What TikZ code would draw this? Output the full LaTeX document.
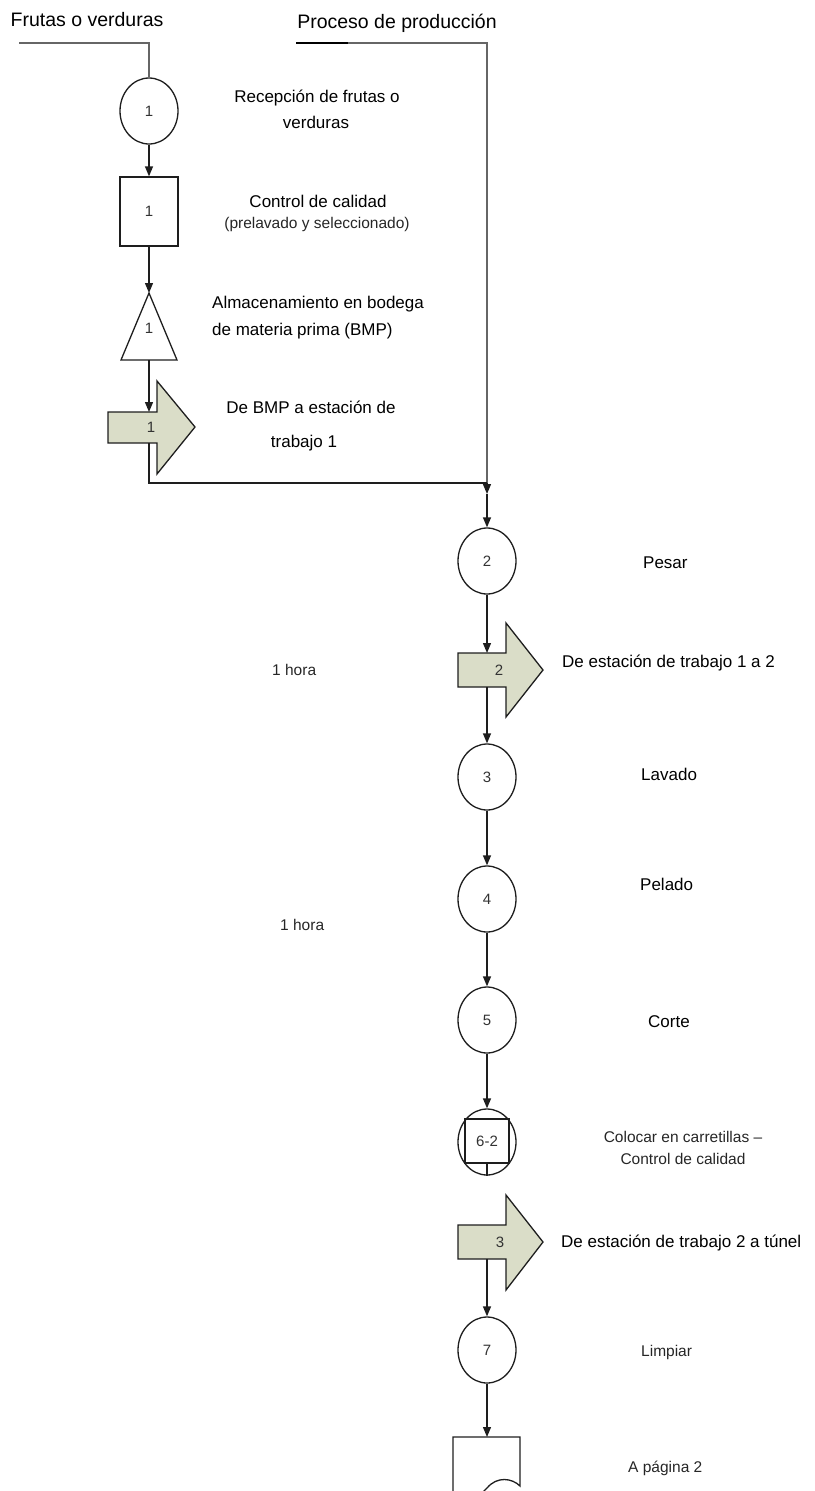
\documentclass[tikz,border=0pt]{standalone}
\usepackage{fontspec}
\setmainfont{Liberation Sans}
\usetikzlibrary{shapes.geometric,arrows.meta}

\definecolor{movefill}{RGB}{218,221,200}
\definecolor{ink}{RGB}{30,30,30}

\begin{document}
\begin{tikzpicture}[x=1pt,y=-1pt,
  flow/.style={draw=ink, line width=1.3pt},
  arr/.style={flow, -{Triangle[length=10pt,width=8pt]}},
  feed/.style={draw=black!60, line width=2pt},
  opnode/.style={ellipse, draw=ink, line width=1.3pt, minimum width=58pt,
    minimum height=66pt, inner sep=0pt, font=\fontsize{15}{17}\selectfont, text=black!80},
  insnode/.style={rectangle, draw=ink, line width=1.3pt, minimum width=58pt,
    minimum height=69pt, inner sep=0pt, font=\fontsize{15}{17}\selectfont, text=black!80},
  num/.style={font=\fontsize{15}{17}\selectfont, text=black!80, inner sep=0pt},
  moveshape/.style={draw=ink, line width=1.3pt, fill=movefill},
  title/.style={font=\fontsize{19.5}{22}\selectfont, inner sep=0pt, anchor=base},
  lbl/.style={font=\fontsize{17}{20}\selectfont, inner sep=0pt, anchor=base},
  small/.style={font=\fontsize{15.5}{18}\selectfont, inner sep=0pt, anchor=base, text=black!85},
]
\useasboundingbox (0,0) rectangle (814,1491);
\clip (0,0) rectangle (814,1491);

% ---- headings
\node[title] (tFrutas) at (87,27) {Frutas o verduras};
\node[title] (tProceso) at (397,28) {Proceso de producción};

% ---- left column: reception branch
\node[opnode] (c1) at (149,111) {1};
\node[insnode] (q1) at (149,211.5) {1};
\draw[flow] (149,293) coordinate (triTop) -- (177,360) -- (121,360) -- cycle;
\coordinate (triBot) at (149,360);
\node[num] (s1) at (149,328) {1};

\draw[moveshape] (108,412) -- (157,412) -- (157,381) -- (195,427) -- (157,474)
  -- (157,443) -- (108,443) -- cycle;
\coordinate (m1t) at (149,412);
\coordinate (m1b) at (149,443);
\node[num] (n1) at (151,427) {1};

% ---- main column
\node[opnode] (c2) at (487,561) {2};

\draw[moveshape] (458,653) -- (506,653) -- (506,623) -- (543,670) -- (506,717)
  -- (506,687) -- (458,687) -- cycle;
\coordinate (m2t) at (487,653);
\coordinate (m2b) at (487,687);
\node[num] (n2) at (499,670) {2};

\node[opnode] (c3) at (487,777) {3};
\node[opnode] (c4) at (487,899) {4};
\node[opnode] (c5) at (487,1020) {5};

\node[opnode] (c6) at (487,1142) {};
\node[rectangle, draw=ink, line width=1.3pt, minimum size=44pt, inner sep=0pt,
  font=\fontsize{15}{17}\selectfont, text=black!80] (q6) at (487,1141) {6-2};

\draw[moveshape] (458,1225) -- (506,1225) -- (506,1195) -- (543,1242) -- (506,1290)
  -- (506,1259) -- (458,1259) -- cycle;
\coordinate (m3b) at (487,1259);
\node[num] (n3) at (500,1242) {3};

\node[opnode] (c7) at (487,1350) {7};

% off-page connector
\draw[flow] (453,1500) -- (453,1437) -- (520,1437) -- (520,1486)
  .. controls (512,1478) and (497,1476) .. (487,1488)
  .. controls (478,1499) and (462,1500) .. (453,1496);
\coordinate (doc) at (487,1437);

% ---- input lines
\coordinate (inL) at (19,43);
\coordinate (inLc) at (149,43);
\draw[feed] (inL) -- (inLc) -- (c1.north);

\coordinate (inR) at (296,43);
\coordinate (inRc) at (487,43);
\coordinate (join) at (487,483);
\coordinate (joinTip) at (487,494);
\coordinate (inRd) at (348,43);
\draw[feed] (inR) -- (inRc) -- (join);
\draw[draw=black, line width=2pt] (inR) -- (inRd);
\draw[arr] (join) -- (joinTip);

% ---- connectors
\draw[arr] (c1.south) -- (q1.north);
\draw[arr] (q1.south) -- (triTop);
\draw[arr] (triBot) -- (m1t);
\coordinate (m1c) at (149,483);
\draw[flow] (m1b) -- (m1c) -- (join);
\draw[arr] (joinTip) -- (c2.north);
\draw[arr] (c2.south) -- (m2t);
\draw[arr] (m2b) -- (c3.north);
\draw[arr] (c3.south) -- (c4.north);
\draw[arr] (c4.south) -- (c5.north);
\draw[arr] (c5.south) -- (c6.north);
\draw[flow] (q6.south) -- (c6.south);
\draw[arr] (m3b) -- (c7.north);
\draw[arr] (c7.south) -- (doc);

% ---- labels
\node[lbl] (l1a) at (317,102) {Recepción de frutas o};
\node[lbl] (l1b) at (316,128) {verduras};
\node[lbl] (l2a) at (318,207) {Control de calidad};
\node[small] (l2b) at (317,228) {(prelavado y seleccionado)};
\node[lbl, anchor=base west] (l3a) at (212,308) {Almacenamiento en bodega};
\node[lbl, anchor=base west] (l3b) at (212,335) {de materia prima (BMP)};
\node[lbl] (l4a) at (311,413) {De BMP a estación de};
\node[lbl] (l4b) at (304,447) {trabajo 1};

\node[lbl, anchor=base west] (lPesar) at (643,568) {Pesar};
\node[small, anchor=base west] (lHora1) at (272,675) {1 hora};
\node[lbl, anchor=base west] (lMov2) at (562,667) {De estación de trabajo 1 a 2};
\node[lbl, anchor=base west] (lLavado) at (641,780) {Lavado};
\node[lbl, anchor=base west] (lPelado) at (640,890) {Pelado};
\node[small, anchor=base west] (lHora2) at (280,930) {1 hora};
\node[lbl, anchor=base west] (lCorte) at (648,1027) {Corte};
\node[small] (l6a) at (683,1142) {Colocar en carretillas –};
\node[small] (l6b) at (683,1164) {Control de calidad};
\node[lbl, anchor=base west] (lMov3) at (561,1247) {De estación de trabajo 2 a túnel};
\node[small, anchor=base west] (lLimpiar) at (641,1356) {Limpiar};
\node[small, anchor=base west] (lPagina) at (628,1472) {A página 2};
\end{tikzpicture}
\end{document}
